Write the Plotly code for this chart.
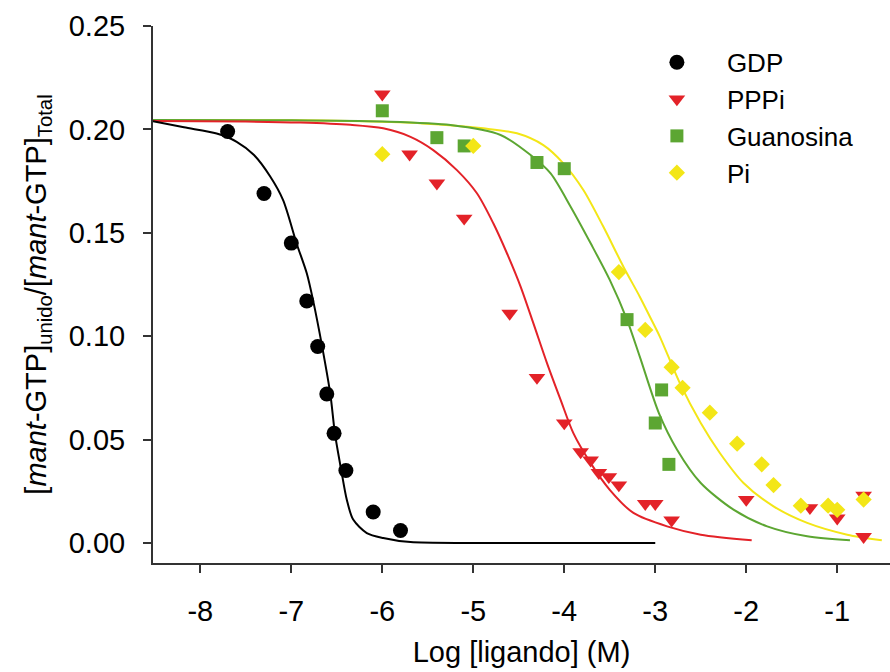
import plotly.graph_objects as go

# ---- data ----
gdp_x = [-7.7, -7.3, -7.0, -6.83, -6.71, -6.61, -6.53, -6.4, -6.1, -5.8]
gdp_y = [0.199, 0.169, 0.145, 0.117, 0.095, 0.072, 0.053, 0.035, 0.015, 0.006]

pppi_x = [-6.0, -5.7, -5.4, -5.1, -4.6, -4.3, -4.0, -3.82, -3.71, -3.62, -3.51, -3.4,
          -3.11, -3.0, -2.82, -2.0, -1.3, -1.0, -0.71, -0.71]
pppi_y = [0.217, 0.188, 0.174, 0.157, 0.111, 0.080, 0.058, 0.044, 0.040, 0.034, 0.032, 0.028,
          0.019, 0.019, 0.011, 0.021, 0.017, 0.012, 0.023, 0.003]

guan_x = [-6.0, -5.4, -5.1, -4.3, -4.0, -3.31, -2.93, -3.0, -2.85]
guan_y = [0.209, 0.196, 0.192, 0.184, 0.181, 0.108, 0.074, 0.058, 0.038]

pi_x = [-6.0, -5.0, -3.4, -3.11, -2.82, -2.7, -2.4, -2.1, -1.83, -1.7, -1.4, -1.1, -1.0, -0.71]
pi_y = [0.188, 0.192, 0.131, 0.103, 0.085, 0.075, 0.063, 0.048, 0.038, 0.028, 0.018, 0.018, 0.016, 0.021]

# fitted curves
gdp_fit_x = [-8.52, -8.18, -7.82, -7.6, -7.41, -7.23, -7.09, -6.94, -6.83, -6.76, -6.66, -6.57,
             -6.52, -6.45, -6.39, -6.32, -6.17, -5.99, -5.69, -5.0, -4.0, -3.0]
gdp_fit_y = [0.204, 0.201, 0.198, 0.194, 0.1876, 0.1771, 0.1658, 0.1446, 0.1304, 0.1172, 0.0947,
             0.0716, 0.0527, 0.0349, 0.0209, 0.0113, 0.0048, 0.0024, 0.0004, 0.0, 0.0, 0.0]

pppi_fit_x = [-8.52, -7.5, -6.9, -6.35, -5.99, -5.69, -5.44, -5.18, -4.96, -4.78, -4.63, -4.48,
              -4.34, -4.19, -4.04, -3.9, -3.71, -3.5, -3.24, -2.87, -2.5, -1.94]
pppi_fit_y = [0.204, 0.2038, 0.2033, 0.2022, 0.2005, 0.1964, 0.19, 0.1803, 0.1691, 0.1546, 0.1401,
              0.124, 0.1063, 0.087, 0.0692, 0.0531, 0.0386, 0.0257, 0.0145, 0.008, 0.004, 0.0013]

guan_fit_x = [-8.52, -7.0, -6.0, -5.25, -4.7, -4.37, -4.15, -3.93, -3.71, -3.5, -3.31, -3.17,
              -2.96, -2.76, -2.5, -2.14, -1.77, -1.33, -0.86]
guan_fit_y = [0.2045, 0.2044, 0.2038, 0.2021, 0.1973, 0.1876, 0.1787, 0.1626, 0.1449, 0.1272,
              0.1079, 0.0901, 0.0628, 0.0451, 0.029, 0.0161, 0.008, 0.0032, 0.0013]

pi_fit_x = [-8.52, -7.0, -6.2, -5.56, -4.89, -4.52, -4.23, -4.01, -3.79, -3.57, -3.35, -3.17,
            -3.06, -2.95, -2.73, -2.5, -2.29, -2.03, -1.7, -1.33, -0.89, -0.51]
pi_fit_y = [0.2045, 0.2044, 0.2039, 0.2029, 0.2005, 0.1981, 0.1924, 0.1836, 0.1707, 0.1529,
            0.1336, 0.1191, 0.1095, 0.0998, 0.0773, 0.058, 0.0435, 0.029, 0.0177, 0.0097, 0.004, 0.0013]

x_ticks = [-8, -7, -6, -5, -4, -3, -2, -1]
y_ticks = [0.0, 0.05, 0.10, 0.15, 0.20, 0.25]
y_ticklabels = ["0.00", "0.05", "0.10", "0.15", "0.20", "0.25"]

BLACK = "#000000"
RED = "#E32228"
GREEN = "#5CA632"
YELLOW = "#F3E617"
FONT = "Liberation Sans, Arial, sans-serif"

fig = go.Figure()

# fit lines
for fx, fy, col in [(pi_fit_x, pi_fit_y, YELLOW), (guan_fit_x, guan_fit_y, GREEN),
                    (pppi_fit_x, pppi_fit_y, RED), (gdp_fit_x, gdp_fit_y, BLACK)]:
    fig.add_trace(go.Scatter(x=fx, y=fy, mode="lines", showlegend=False, hoverinfo="skip",
                             line=dict(color=col, width=2, shape="spline", smoothing=0.8)))

# data markers
fig.add_trace(go.Scatter(x=gdp_x, y=gdp_y, mode="markers", name="GDP",
                         marker=dict(symbol="circle", size=15, color=BLACK)))
fig.add_trace(go.Scatter(x=pppi_x, y=pppi_y, mode="markers", name="PPPi",
                         marker=dict(symbol="triangle-down", size=14.5, color=RED)))
fig.add_trace(go.Scatter(x=guan_x, y=guan_y, mode="markers", name="Guanosina",
                         marker=dict(symbol="square", size=13, color=GREEN)))
fig.add_trace(go.Scatter(x=pi_x, y=pi_y, mode="markers", name="Pi",
                         marker=dict(symbol="diamond", size=12.5, color=YELLOW)))

fig.update_layout(
    width=890, height=672,
    margin=dict(l=153, r=0, t=26, b=109),
    paper_bgcolor="white", plot_bgcolor="white",
    font=dict(family=FONT, size=29, color="black"),
    legend=dict(x=0.643, y=0.976, xanchor="left", yanchor="top",
                font=dict(family=FONT, size=26, color="black"),
                itemwidth=90, bgcolor="rgba(0,0,0,0)", tracegroupgap=0),
    xaxis=dict(range=[-8.52, -0.42], tickvals=x_ticks, ticktext=[str(v) for v in x_ticks],
               showgrid=False, zeroline=False, showline=True, linecolor="#333333", linewidth=2,
               ticks="outside", ticklen=8, tickwidth=2, tickcolor="#333333",
               tickfont=dict(family=FONT, size=29), ticklabelstandoff=13,
               title=dict(text="Log [ligando] (M)", font=dict(family=FONT, size=29), standoff=16)),
    yaxis=dict(range=[-0.0097, 0.25], tickvals=y_ticks, ticktext=y_ticklabels,
               showgrid=False, zeroline=False, showline=True, linecolor="#333333", linewidth=2,
               ticks="outside", ticklen=8, tickwidth=2, tickcolor="#333333",
               tickfont=dict(family=FONT, size=29), ticklabelstandoff=12,
               title=dict(text="[<i>mant</i>-GTP]<sub>unido</sub>/[<i>mant</i>-GTP]<sub>Total</sub>",
                          font=dict(family=FONT, size=29), standoff=14)),
)

fig.write_html("out.html")
